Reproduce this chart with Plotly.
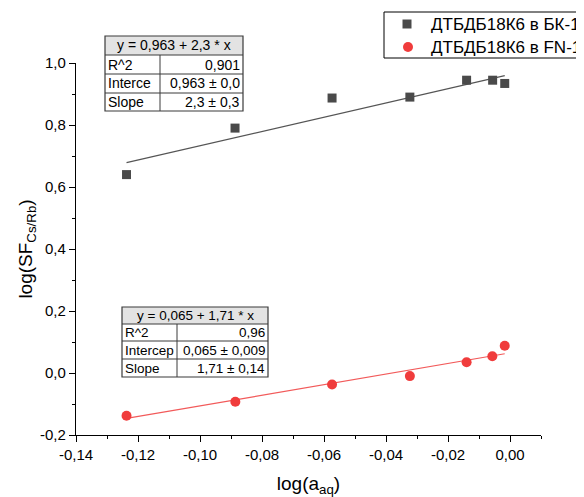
import numpy as np
import plotly.graph_objects as go

# ---------------- data ----------------
x_bk = [-0.1237, -0.0887, -0.0574, -0.0323, -0.0140, -0.0056, -0.0017]
y_bk = [0.640, 0.790, 0.887, 0.890, 0.9445, 0.9445, 0.934]
x_fn = [-0.1237, -0.0886, -0.0574, -0.0323, -0.0140, -0.0057, -0.0017]
y_fn = [-0.138, -0.093, -0.037, -0.010, 0.0345, 0.054, 0.088]

names = ["ДТБДБ18К6 в БК-1", "ДТБДБ18К6 в FN-1"]
fit_intercept = [0.963, 0.065]
fit_slope = [2.3, 1.71]

table_bk = ["y = 0,963 + 2,3 * x", ["R^2", "Interce", "Slope"], ["0,901", "0,963 ± 0,0", "2,3 ± 0,3"]]
table_fn = ["y = 0,065 + 1,71 * x", ["R^2", "Intercep", "Slope"], ["0,96", "0,065 ± 0,009", "1,71 ± 0,14"]]

x_tickvals = [-0.14, -0.12, -0.10, -0.08, -0.06, -0.04, -0.02, 0.00]
x_ticktext = ["-0,14", "-0,12", "-0,10", "-0,08", "-0,06", "-0,04", "-0,02", "0,00"]
y_tickvals = [-0.2, 0.0, 0.2, 0.4, 0.6, 0.8, 1.0]
y_ticktext = ["-0,2", "0,0", "0,2", "0,4", "0,6", "0,8", "1,0"]

# ---------------- styling ----------------
OFF = 8  # page body margin offset of the figure in the screenshot
W, H = 584 - OFF, 497 - OFF
# plot area in screenshot pixels: x 76..541, y 63..435
L, T = 76 - OFF, 63 - OFF
R, B = W - (541 - OFF), H - (435 - OFF)
PW, PH = W - L - R, H - T - B
FONT = "Arial, Liberation Sans, sans-serif"
C_BK = "#4a4a4a"
C_FN = "#f03c3c"
C_BK_LINE = "#555555"
C_FN_LINE = "#f25a5a"


def px(xs):
    """screenshot x pixel -> paper fraction"""
    return (xs - OFF - L) / PW


def py(ys):
    """screenshot y pixel -> paper fraction"""
    return (H - B - (ys - OFF)) / PH


fig = go.Figure()

# fit lines
for xs, icpt, slp, col in [(x_bk, fit_intercept[0], fit_slope[0], C_BK_LINE),
                           (x_fn, fit_intercept[1], fit_slope[1], C_FN_LINE)]:
    lx = np.array([min(xs), max(xs)])
    ly = icpt + slp * lx
    fig.add_trace(go.Scatter(x=lx, y=ly, mode="lines", line=dict(color=col, width=1.2),
                             showlegend=False, hoverinfo="skip"))

fig.add_trace(go.Scatter(x=x_bk, y=y_bk, mode="markers", name=names[0], showlegend=False,
                         marker=dict(symbol="square", size=9, color=C_BK, line=dict(width=0))))
fig.add_trace(go.Scatter(x=x_fn, y=y_fn, mode="markers", name=names[1], showlegend=False,
                         marker=dict(symbol="circle", size=10, color=C_FN, line=dict(width=0))))

shapes = []
annotations = []


def add_table(tbl, left, right, split, rows, fsize):
    header, labels, values = tbl
    shapes.append(dict(type="rect", xref="paper", yref="paper",
                       x0=px(left), x1=px(right), y0=py(rows[1]), y1=py(rows[0]),
                       fillcolor="#e3e3e3", line=dict(width=0), layer="above"))
    shapes.append(dict(type="rect", xref="paper", yref="paper",
                       x0=px(left), x1=px(right), y0=py(rows[-1]), y1=py(rows[0]),
                       fillcolor="rgba(255,255,255,0)", line=dict(color="#3a3a3a", width=1.2), layer="above"))
    for r in rows[1:-1]:
        shapes.append(dict(type="line", xref="paper", yref="paper",
                           x0=px(left), x1=px(right), y0=py(r), y1=py(r),
                           line=dict(color="#3a3a3a", width=1), layer="above"))
    shapes.append(dict(type="line", xref="paper", yref="paper",
                       x0=px(split), x1=px(split), y0=py(rows[1]), y1=py(rows[-1]),
                       line=dict(color="#3a3a3a", width=1), layer="above"))
    annotations.append(dict(xref="paper", yref="paper", x=px((left + right) / 2),
                            y=py((rows[0] + rows[1]) / 2), text=header, showarrow=False,
                            xanchor="center", yanchor="middle",
                            font=dict(family=FONT, size=fsize, color="black")))
    for i in range(3):
        ym = py((rows[i + 1] + rows[i + 2]) / 2)
        annotations.append(dict(xref="paper", yref="paper", x=px(left + 1), y=ym,
                                text=labels[i], showarrow=False, xanchor="left", yanchor="middle",
                                font=dict(family=FONT, size=fsize, color="black")))
        annotations.append(dict(xref="paper", yref="paper", x=px(right - 1), y=ym,
                                text=values[i], showarrow=False, xanchor="right", yanchor="middle",
                                font=dict(family=FONT, size=fsize, color="black")))


add_table(table_bk, 105, 243, 160, [36, 55, 74, 93, 111], 14)
add_table(table_fn, 122, 268, 177, [307, 324, 341, 359, 377], 13.5)

# legend box (drawn manually for exact geometry)
shapes.append(dict(type="rect", xref="paper", yref="paper",
                   x0=px(384), x1=px(620), y0=py(58), y1=py(12),
                   fillcolor="white", line=dict(color="black", width=1), layer="above"))
shapes.append(dict(type="rect", xref="paper", yref="paper",
                   x0=px(402.5), x1=px(411.5), y0=py(28.5), y1=py(19.5),
                   fillcolor=C_BK, line=dict(width=0), layer="above"))
shapes.append(dict(type="circle", xref="paper", yref="paper",
                   x0=px(403), x1=px(413), y0=py(52), y1=py(42),
                   fillcolor=C_FN, line=dict(width=0), layer="above"))
for nm, yy in zip(names, [24, 47]):
    annotations.append(dict(xref="paper", yref="paper", x=px(429), y=py(yy), text=nm,
                            showarrow=False, xanchor="left", yanchor="middle",
                            font=dict(family=FONT, size=17, color="black")))

axis_common = dict(showline=True, linecolor="black", linewidth=1.3, ticks="outside",
                   ticklen=6, tickwidth=1.2, tickcolor="black", showgrid=False, zeroline=False,
                   tickfont=dict(family=FONT, size=15, color="black"), mirror=False,
                   automargin=False)

fig.update_layout(
    width=W, height=H,
    margin=dict(l=L, r=R, t=T, b=B, autoexpand=False),
    paper_bgcolor="white", plot_bgcolor="white",
    font=dict(family=FONT, color="black"),
    shapes=shapes, annotations=annotations,
    showlegend=False,
    xaxis=dict(range=[-0.14, 0.01], tickvals=x_tickvals, ticktext=x_ticktext,
               minor=dict(dtick=0.01, tick0=0, ticklen=3, tickwidth=1, tickcolor="black", ticks="outside"),
               title=dict(text="log(a<sub>aq</sub>)", font=dict(family=FONT, size=19), standoff=14),
               **axis_common),
    yaxis=dict(range=[-0.2, 1.0], tickvals=y_tickvals, ticktext=y_ticktext,
               minor=dict(dtick=0.1, tick0=0, ticklen=3, tickwidth=1, tickcolor="black", ticks="outside"),
               title=dict(text="log(SF<sub>Cs/Rb</sub>)", font=dict(family=FONT, size=19), standoff=2),
               **axis_common),
)

fig.write_html("out.html")
